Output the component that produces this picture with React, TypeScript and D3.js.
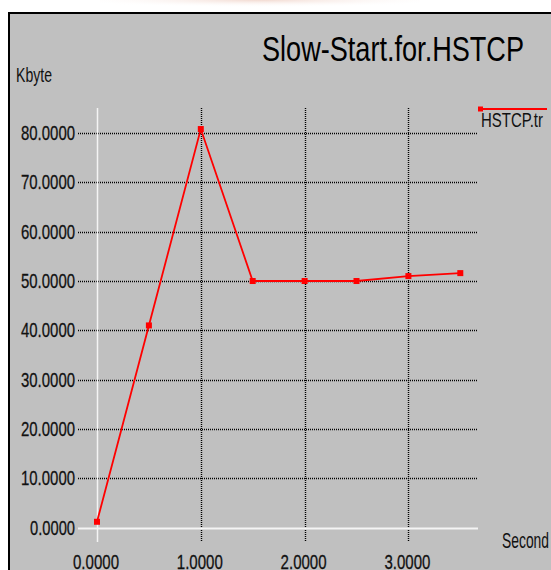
import React from 'react';
import * as d3 from 'd3';

// values
const seconds = [0, 0.5, 1.0, 1.5, 2.0, 2.5, 3.0, 3.5];
const kbytes = [1.2, 41, 80.8, 50, 50, 50, 51, 51.6];
const yTicks = [0, 10, 20, 30, 40, 50, 60, 70, 80];
const xTicks = [0, 1, 2, 3];
const seriesName = 'HSTCP.tr';
const chartTitle = 'Slow-Start.for.HSTCP';

const W = 551;
const H = 570;
const FONT = '"Liberation Sans", Arial, sans-serif';

const App: React.FC = () => {
  const x = d3.scaleLinear().domain([0, 3.5]).range([97, 460.3]);
  const y = d3.scaleLinear().domain([0, 80]).range([527.7, 133]);

  const gridLeft = 78;
  const gridRight = 478;
  const gridTop = 108;
  const gridBottom = 542;

  const pts = seconds.map((s, i) => [s, kbytes[i]] as [number, number]);
  const line = d3.line<[number, number]>()
    .x(d => x(d[0]))
    .y(d => y(d[1]));

  const fmt = d3.format('.4f');

  return (
    <svg width={W} height={H} style={{ position: 'fixed', left: 0, top: 0 }} fontFamily={FONT}>
      <defs>
        <radialGradient id="blob" cx="50%" cy="0%" r="60%">
          <stop offset="0%" stopColor="#f1d6cc" stopOpacity={0.9} />
          <stop offset="100%" stopColor="#ffffff" stopOpacity={0} />
        </radialGradient>
      </defs>
      <rect x={0} y={0} width={W} height={H} fill="#fff" />
      <rect x={100} y={0} width={320} height={12} fill="url(#blob)" />

      {/* panel */}
      <rect x={9} y={13} width={W} height={H} fill="#c0c0c0" />
      <line x1={9} x2={W} y1={13} y2={13} stroke="#000" strokeWidth={2} />
      <line x1={9} x2={9} y1={12} y2={H} stroke="#000" strokeWidth={2} />

      <text x={262} y={61} fontSize={35} fill="#000" textLength={262} lengthAdjust="spacingAndGlyphs">{chartTitle}</text>
      <text x={16} y={82} fontSize={21} fill="#111" textLength={36} lengthAdjust="spacingAndGlyphs">Kbyte</text>
      <text x={502} y={548} fontSize={22} fill="#111" textLength={47} lengthAdjust="spacingAndGlyphs">Second</text>

      {/* horizontal grid */}
      {yTicks.filter(t => t !== 0).map(t => (
        <line key={'h' + t} x1={gridLeft} x2={gridRight} y1={Math.round(y(t)) + 0.5} y2={Math.round(y(t)) + 0.5}
          stroke="#000" strokeWidth={1.4} strokeDasharray="1 1" />
      ))}
      {/* vertical grid */}
      {xTicks.filter(t => t !== 0).map(t => (
        <line key={'v' + t} x1={Math.round(x(t)) + 0.5} x2={Math.round(x(t)) + 0.5} y1={gridTop} y2={gridBottom}
          stroke="#000" strokeWidth={1.4} strokeDasharray="1 1" />
      ))}
      {/* white axes */}
      <line x1={gridLeft} x2={gridRight} y1={Math.round(y(0)) + 0.5} y2={Math.round(y(0)) + 0.5} stroke="#f4f4f4" strokeWidth={2} />
      <line x1={Math.round(x(0)) + 0.5} x2={Math.round(x(0)) + 0.5} y1={gridTop} y2={gridBottom} stroke="#f4f4f4" strokeWidth={1.5} />

      {/* y tick labels */}
      {yTicks.map(t => {
        const s = fmt(t);
        return (
          <text key={'yl' + t} x={75} y={y(t) + 7} fontSize={21} fill="#111" textAnchor="end" stroke="#111" strokeWidth={0.3}
            textLength={s.length === 7 ? 54 : 45} lengthAdjust="spacingAndGlyphs">{s}</text>
        );
      })}
      {/* x tick labels */}
      {xTicks.map(t => (
        <text key={'xl' + t} x={x(t) - 1} y={569} fontSize={21} fill="#111" textAnchor="middle" stroke="#111" strokeWidth={0.3}
          textLength={46} lengthAdjust="spacingAndGlyphs">{fmt(t)}</text>
      ))}

      {/* series */}
      <path d={line(pts) || ''} fill="none" stroke="#ff0000" strokeWidth={1.8} />
      {pts.map((p, i) => (
        <rect key={'m' + i} x={x(p[0]) - 3} y={y(p[1]) - 3} width={6} height={6} fill="#ff0000" />
      ))}

      {/* legend */}
      <line x1={480} x2={547} y1={109} y2={109} stroke="#ff0000" strokeWidth={2} />
      <rect x={478} y={106.5} width={5} height={5} fill="#ff0000" />
      <text x={481} y={127} fontSize={20} fill="#111" textLength={62} lengthAdjust="spacingAndGlyphs">{seriesName}</text>
    </svg>
  );
};

export default App;
